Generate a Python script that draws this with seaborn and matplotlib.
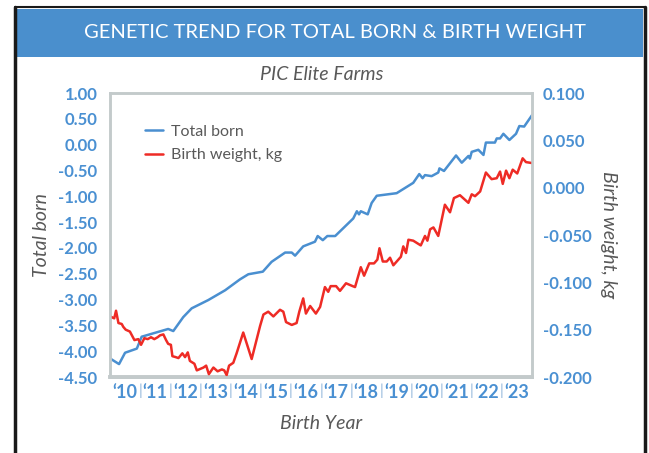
import numpy as np
import pandas as pd
import matplotlib.pyplot as plt
import seaborn as sns
from matplotlib.patches import Rectangle
from matplotlib.lines import Line2D

# Total born trend (left axis), x = birth year as decimal
tb_year = [2010.00, 2010.30, 2010.50, 2010.89, 2011.05, 2011.93, 2012.10, 2012.43, 2012.71,
           2013.26, 2013.82, 2014.31, 2014.59, 2015.07, 2015.36, 2015.81, 2016.03, 2016.14,
           2016.41, 2016.80, 2016.89, 2017.06, 2017.21, 2017.47, 2018.07, 2018.19, 2018.26,
           2018.32, 2018.55, 2018.68, 2018.85, 2019.51, 2020.06, 2020.26, 2020.37, 2020.45,
           2020.67, 2020.89, 2020.93, 2021.08, 2021.48, 2021.67, 2021.89, 2021.94, 2022.00,
           2022.22, 2022.39, 2022.47, 2022.77, 2022.83, 2022.94, 2023.05, 2023.25, 2023.47,
           2023.58, 2023.74, 2024.00]
tb_value = [-4.14, -4.25, -4.03, -3.95, -3.72, -3.57, -3.61, -3.34, -3.17,
            -3.01, -2.82, -2.61, -2.51, -2.46, -2.27, -2.09, -2.09, -2.15,
            -1.97, -1.88, -1.77, -1.85, -1.77, -1.77, -1.43, -1.29, -1.35,
            -1.29, -1.35, -1.13, -0.99, -0.94, -0.74, -0.57, -0.65, -0.59,
            -0.61, -0.54, -0.46, -0.51, -0.21, -0.35, -0.22, -0.27, -0.14,
            -0.10, -0.20, 0.04, 0.04, 0.12, 0.12, 0.21, 0.09, 0.21,
            0.36, 0.35, 0.57]

# Birth weight trend, kg (right axis)
bw_year = [2010.00, 2010.14, 2010.20, 2010.28, 2010.39, 2010.44, 2010.52, 2010.66, 2010.81,
           2010.94, 2011.03, 2011.14, 2011.25, 2011.36, 2011.47, 2011.58, 2011.66, 2011.77,
           2011.86, 2011.93, 2012.02, 2012.07, 2012.18, 2012.27, 2012.40, 2012.49, 2012.58,
           2012.65, 2012.80, 2012.88, 2013.10, 2013.19, 2013.28, 2013.43, 2013.57, 2013.71,
           2013.79, 2013.87, 2013.95, 2014.09, 2014.20, 2014.42, 2014.70, 2014.98, 2015.09,
           2015.25, 2015.42, 2015.64, 2015.75, 2015.84, 2016.03, 2016.19, 2016.28, 2016.41,
           2016.50, 2016.64, 2016.83, 2016.97, 2017.13, 2017.24, 2017.32, 2017.50, 2017.63,
           2017.83, 2018.05, 2018.13, 2018.32, 2018.43, 2018.60, 2018.76, 2018.87, 2018.94,
           2019.05, 2019.18, 2019.29, 2019.40, 2019.65, 2019.73, 2019.82, 2019.90, 2020.06,
           2020.31, 2020.45, 2020.53, 2020.62, 2020.73, 2020.89, 2021.11, 2021.28, 2021.41,
           2021.61, 2021.89, 2022.00, 2022.11, 2022.28, 2022.47, 2022.66, 2022.83, 2022.94,
           2023.03, 2023.14, 2023.25, 2023.36, 2023.51, 2023.69, 2023.80, 2024.00]
bw_value = [-0.136, -0.138, -0.130, -0.143, -0.144, -0.147, -0.150, -0.152, -0.161,
            -0.160, -0.166, -0.159, -0.160, -0.158, -0.160, -0.158, -0.156, -0.155,
            -0.161, -0.165, -0.166, -0.178, -0.179, -0.180, -0.175, -0.179, -0.174,
            -0.183, -0.186, -0.193, -0.190, -0.188, -0.197, -0.190, -0.194, -0.192,
            -0.193, -0.198, -0.188, -0.185, -0.175, -0.153, -0.181, -0.146, -0.134,
            -0.131, -0.136, -0.129, -0.131, -0.142, -0.145, -0.143, -0.131, -0.117,
            -0.133, -0.125, -0.133, -0.126, -0.105, -0.110, -0.104, -0.104, -0.109,
            -0.101, -0.104, -0.105, -0.084, -0.093, -0.080, -0.080, -0.076, -0.064,
            -0.078, -0.078, -0.074, -0.082, -0.073, -0.062, -0.069, -0.055, -0.056,
            -0.061, -0.051, -0.056, -0.044, -0.042, -0.051, -0.018, -0.026, -0.011,
            -0.008, -0.016, -0.007, -0.009, -0.004, 0.016, 0.009, 0.010, 0.017,
            0.004, 0.018, 0.010, 0.019, 0.015, 0.031, 0.027, 0.026]

years = list(range(2010, 2024))
year_labels = ["\u2018%02d" % (y % 100) for y in years]
left_ticks = [1.00, 0.50, 0.00, -0.50, -1.00, -1.50, -2.00, -2.50, -3.00, -3.50, -4.00, -4.50]
right_ticks = [0.100, 0.050, 0.000, -0.050, -0.100, -0.150, -0.200]

BLUE = "#4A8FD0"
RED = "#EE2B25"
TICK_BLUE = "#4A90D2"
GREY = "#595959"
FRAME = "#C3CACB"

sns.set_theme(style="white")
plt.rcParams['font.family'] = ['Lato', 'DejaVu Sans']

fig = plt.figure(figsize=(6.49, 4.53), dpi=100)
W, H = 649, 453

# slide frame and blue title bar
fig.add_artist(Rectangle((17 / W, 1 - 57 / H), 626 / W, 48 / H, transform=fig.transFigure,
                         facecolor="#4A8FCD", edgecolor="none", zorder=0))
for x in (15, 645):
    fig.add_artist(Line2D([x / W, x / W], [0, 1 - 7 / H], transform=fig.transFigure,
                          color="#1a1a1a", lw=2.5))
fig.add_artist(Line2D([15 / W, 645 / W], [1 - 7 / H, 1 - 7 / H], transform=fig.transFigure,
                      color="#1a1a1a", lw=1.5))
fig.text(335 / W, 1 - 33 / H, "GENETIC TREND FOR TOTAL BORN & BIRTH WEIGHT",
         ha="center", va="center", color="white", fontsize=14.5)
fig.text(322 / W, 1 - 75 / H, "PIC Elite Farms", ha="center", va="center",
         color=GREY, fontsize=14, style="italic")

ax = fig.add_axes([110 / W, 76 / H, 422 / W, 284 / H])
ax2 = ax.twinx()

tb = pd.DataFrame({"year": tb_year, "value": tb_value})
bw = pd.DataFrame({"year": bw_year, "value": bw_value})
sns.lineplot(data=tb, x="year", y="value", ax=ax, color=BLUE, lw=1.8, label="Total born", legend=False)
sns.lineplot(data=bw, x="year", y="value", ax=ax2, color=RED, lw=1.8, label="Birth weight, kg", legend=False)

ax.set_xlim(2010, 2024)
ax.set_ylim(-4.5, 1.0)
ax2.set_ylim(-0.2, 0.1)

ax.set_yticks(left_ticks)
ax.set_yticklabels(["%.2f" % v for v in left_ticks])
ax2.set_yticks(right_ticks)
ax2.set_yticklabels(["%.3f" % v for v in right_ticks])

ax.set_xticks([y + 0.5 for y in years])
ax.set_xticklabels(year_labels)
ax.set_xticks(years[1:], minor=True)
ax.set_xticklabels(["|"] * (len(years) - 1), minor=True)

for a in (ax, ax2):
    a.tick_params(axis="both", which="both", length=0, labelsize=12, labelcolor=TICK_BLUE)
    for s in a.spines.values():
        s.set_color(FRAME)
        s.set_linewidth(1.8)
    a.set_xlabel("")
    a.set_ylabel("")
ax.spines["bottom"].set_linewidth(2.8)
ax.tick_params(axis="y", pad=9)
ax2.tick_params(axis="y", pad=8)
ax.tick_params(axis="x", which="major", pad=5, labelsize=13)
ax.tick_params(axis="x", which="minor", pad=5, labelcolor="#8FB4DA", labelsize=11)
for lab in ax.get_yticklabels() + ax2.get_yticklabels() + ax.get_xticklabels():
    lab.set_fontweight("bold")

ax.set_xlabel("Birth Year", color=GREY, fontsize=14, style="italic", labelpad=10)
ax.set_ylabel("Total born", color=GREY, fontsize=14, style="italic", labelpad=6)
ax2.set_ylabel("Birth weight, kg", color=GREY, fontsize=14, style="italic", rotation=-90, labelpad=18)

handles = ax.get_lines()[:1] + ax2.get_lines()[:1]
leg = ax2.legend(handles, ["Total born", "Birth weight, kg"], loc="upper left",
                 bbox_to_anchor=(0.05, 0.94), frameon=False, fontsize=11.5,
                 handlelength=1.1, handletextpad=0.5, labelspacing=0.6)
for t in leg.get_texts():
    t.set_color(GREY)

fig.savefig("out.png", dpi=100)
